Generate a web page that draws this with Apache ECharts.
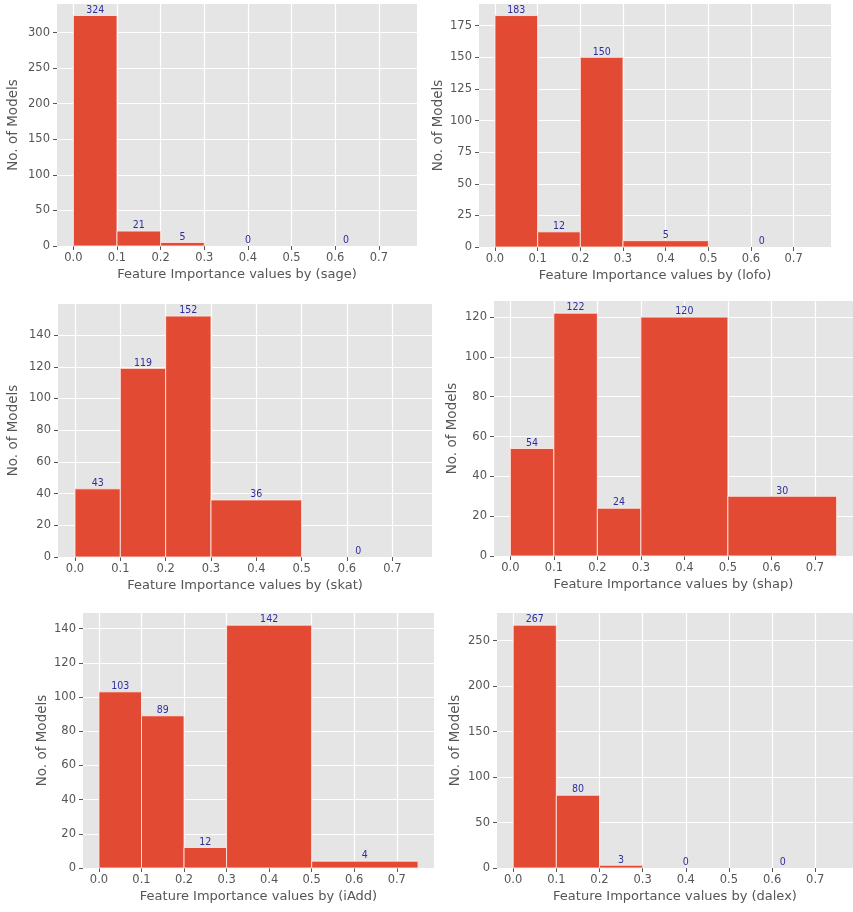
<!DOCTYPE html>
<html>
<head>
<meta charset="utf-8">
<script src="https://cdn.jsdelivr.net/npm/echarts@6/dist/echarts.min.js"></script>
<style>
html,body{margin:0;padding:0;background:#fff;}
#chart{width:853px;height:912px;}
</style>
</head>
<body>
<div id="chart"></div>
<script>
// ---- data ----
const binEdges = [0, 0.1, 0.2, 0.3, 0.5, 0.75];
const methods = ['sage', 'lofo', 'skat', 'shap', 'iAdd', 'dalex'];
const sageCounts  = [324, 21, 5, 0, 0];
const lofoCounts  = [183, 12, 150, 5, 0];
const skatCounts  = [43, 119, 152, 36, 0];
const shapCounts  = [54, 122, 24, 120, 30];
const iAddCounts  = [103, 89, 12, 142, 4];
const dalexCounts = [267, 80, 3, 0, 0];
const xTicks = [0, 0.1, 0.2, 0.3, 0.4, 0.5, 0.6, 0.7];
const sageYTicks  = [0, 50, 100, 150, 200, 250, 300];
const lofoYTicks  = [0, 25, 50, 75, 100, 125, 150, 175];
const skatYTicks  = [0, 20, 40, 60, 80, 100, 120, 140];
const shapYTicks  = [0, 20, 40, 60, 80, 100, 120];
const iAddYTicks  = [0, 20, 40, 60, 80, 100, 120, 140];
const dalexYTicks = [0, 50, 100, 150, 200, 250];

const allCounts = [sageCounts, lofoCounts, skatCounts, shapCounts, iAddCounts, dalexCounts];
const allYTicks = [sageYTicks, lofoYTicks, skatYTicks, shapYTicks, iAddYTicks, dalexYTicks];

// ---- layout (pixels) ----
const grids = [
  {left: 57,  top: 4,   width: 360, height: 242, yNameGap: 37},
  {left: 479, top: 4,   width: 352, height: 243, yNameGap: 34},
  {left: 58,  top: 304, width: 374, height: 253, yNameGap: 38},
  {left: 494, top: 301, width: 362, height: 255, yNameGap: 35},
  {left: 83,  top: 613, width: 351, height: 255, yNameGap: 34},
  {left: 497, top: 613, width: 360, height: 255, yNameGap: 35}
];

const textColor = '#555555';
const font = 'DejaVu Sans';
const xMin = binEdges[0] - 0.05 * (binEdges[binEdges.length-1] - binEdges[0]);
const xMax = binEdges[binEdges.length-1] + 0.05 * (binEdges[binEdges.length-1] - binEdges[0]);

const option = {
  backgroundColor: '#ffffff',
  animation: false,
  grid: [], xAxis: [], yAxis: [], series: []
};

methods.forEach((m, i) => {
  const g = grids[i];
  const counts = allCounts[i];
  const yMax = Math.max(...counts) * 1.05;
  option.grid.push({
    left: g.left, top: g.top, width: g.width, height: g.height,
    show: true, backgroundColor: '#E5E5E5', borderWidth: 0, containLabel: false
  });
  option.xAxis.push({
    type: 'value', gridIndex: i, min: xMin, max: xMax, position: 'bottom',
    name: 'Feature Importance values by (' + m + ')',
    nameLocation: 'middle', nameGap: 22,
    nameTextStyle: {color: textColor, fontSize: 13, fontFamily: font},
    axisLine: {show: false, onZero: false},
    axisTick: {show: true, length: 4, lineStyle: {color: textColor, width: 1}, customValues: xTicks},
    axisLabel: {color: textColor, fontSize: 11.5, fontFamily: font, margin: 6,
      customValues: xTicks, formatter: v => v.toFixed(1)},
    splitLine: {show: true, lineStyle: {color: '#ffffff', width: 1.2}}
  });
  option.yAxis.push({
    type: 'value', gridIndex: i, min: 0, max: yMax, position: 'left',
    name: 'No. of Models', nameLocation: 'middle', nameGap: g.yNameGap, nameRotate: 90,
    nameTextStyle: {color: textColor, fontSize: 13.5, fontFamily: font},
    axisLine: {show: false, onZero: false},
    axisTick: {show: true, length: 4, lineStyle: {color: textColor, width: 1}, customValues: allYTicks[i]},
    axisLabel: {color: textColor, fontSize: 11.5, fontFamily: font, margin: 7, customValues: allYTicks[i]},
    splitLine: {show: true, lineStyle: {color: '#ffffff', width: 1.2}}
  });
  const data = counts.map((c, k) => [binEdges[k], binEdges[k+1], c]);
  option.series.push({
    type: 'custom', xAxisIndex: i, yAxisIndex: i, data: data,
    encode: {x: [0, 1], y: 2},
    renderItem: function (params, api) {
      const x0 = api.value(0), x1 = api.value(1), c = api.value(2);
      const p0 = api.coord([x0, c]);
      const p1 = api.coord([x1, 0]);
      const children = [];
      if (c > 0) {
        children.push({
          type: 'rect',
          shape: {x: p0[0], y: p0[1], width: p1[0] - p0[0], height: p1[1] - p0[1]},
          style: {fill: '#E24A33', stroke: 'rgba(255,235,230,0.85)', lineWidth: 1}
        });
      }
      const mid = api.coord([(x0 + x1) / 2, c]);
      children.push({
        type: 'text',
        x: mid[0], y: mid[1],
        style: {text: String(c), fill: '#2e2e9e', fontSize: 10.5,
          fontFamily: 'DejaVu Sans Condensed, Liberation Sans Narrow, DejaVu Sans',
          align: 'center', verticalAlign: 'bottom'}
      });
      return {type: 'group', children: children};
    }
  });
});

const chart = echarts.init(document.getElementById('chart'), null, {renderer: 'canvas'});
chart.setOption(option);
</script>
</body>
</html>
